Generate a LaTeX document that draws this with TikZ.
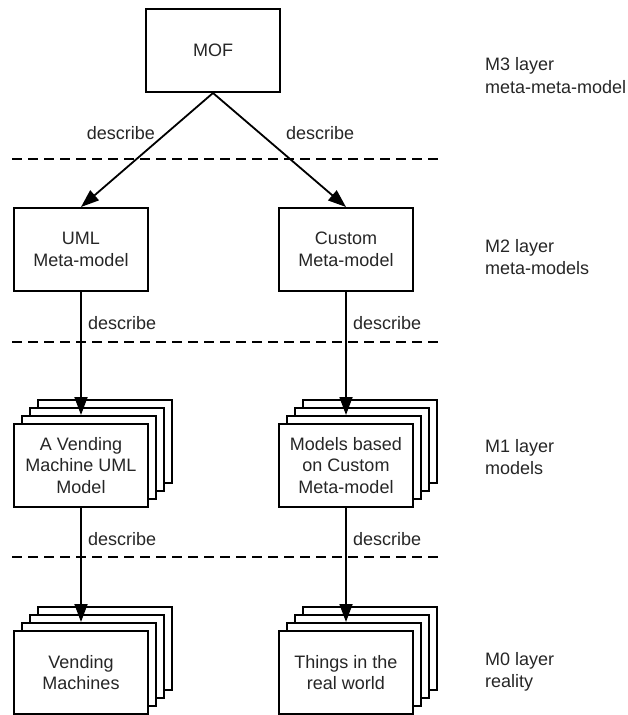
\documentclass[tikz,border=0pt]{standalone}
\usepackage{fontspec}
\setmainfont{Liberation Sans}
\usetikzlibrary{arrows.meta}
\tikzset{
  boxline/.style={draw=black, line width=2pt},
  box/.style={boxline, fill=white, minimum width=134pt, minimum height=83pt,
    inner sep=0pt, align=center, text=black!85, font=\fontsize{18}{21.7}\selectfont},
  describe/.style={font=\fontsize{18}{21.7}\selectfont, text=black!85, inner sep=0pt},
  layer/.style={font=\fontsize{18}{22.5}\selectfont, text=black!85, align=left,
    anchor=west, inner sep=0pt},
  flow/.style={line width=1.8pt, -{Triangle[length=18pt, width=13pt]}},
  divider/.style={line width=1.1pt, dash pattern=on 10pt off 6pt},
}
% a box with three copies stacked behind it, offset up and to the right
\newcommand\stackbox[4]{%
  \foreach \k in {3,2,1} {
    \draw[boxline, fill=white] (#2-67+8*\k, #3-41.5-8*\k) rectangle ++(134,83);
  }
  \node[box] (#1) at (#2,#3) {#4};
  \coordinate (#1in) at ([yshift=8pt]#1.north);
}
\begin{document}
\begin{tikzpicture}[x=1pt, y=-1pt]
  \useasboundingbox (0,0) rectangle (628,715);

  % layer dividers
  \draw[divider] (12,159) -- (443,159);
  \draw[divider] (12,342) -- (443,342);
  \draw[divider] (12,557) -- (443,557);

  % M3 / M2
  \node[box] (mof) at (213,50.5) {MOF};
  \node[box] (uml) at (81,249.5) {UML\\Meta-model};
  \node[box] (custom) at (346,249.5) {Custom\\Meta-model};

  % M1 / M0 stacks
  \stackbox{vmodel}{81}{465.5}{A Vending\\Machine UML\\Model}
  \stackbox{cmodel}{346}{465.5}{Models based\\on Custom\\Meta-model}
  \stackbox{vending}{81}{672.5}{Vending\\Machines}
  \stackbox{things}{346}{672.5}{Things in the\\real world}

  % describe relations
  \draw[flow] (mof.south) -- (uml.north);
  \draw[flow] (mof.south) -- (custom.north);
  \draw[flow] (uml.south) -- (vmodelin);
  \draw[flow] (custom.south) -- (cmodelin);
  \draw[flow] (vmodel.south) -- (vendingin);
  \draw[flow] (cmodel.south) -- (thingsin);

  \node[describe, anchor=east] (d1) at (155,133) {describe};
  \node[describe, anchor=west] (d2) at (286,133) {describe};
  \node[describe, anchor=west] (d3) at (88,323) {describe};
  \node[describe, anchor=west] (d4) at (353,323) {describe};
  \node[describe, anchor=west] (d5) at (88,539) {describe};
  \node[describe, anchor=west] (d6) at (353,539) {describe};

  % layer names
  \node[layer] (m3) at (485,75.5) {M3 layer\\meta-meta-model};
  \node[layer] (m2) at (485,257) {M2 layer\\meta-models};
  \node[layer] (m1) at (485,457) {M1 layer\\models};
  \node[layer] (m0) at (485,672) {M0 layer\\reality};
\end{tikzpicture}
\end{document}
